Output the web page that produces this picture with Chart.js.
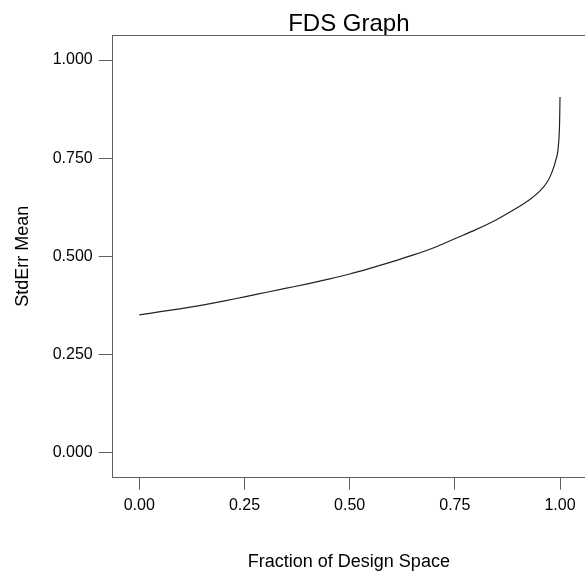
<!DOCTYPE html>
<html>
<head>
<meta charset="utf-8">
<title>FDS Graph</title>
<script src="https://cdn.jsdelivr.net/npm/chart.js@4/dist/chart.umd.min.js"></script>
<style>
  html, body { margin: 0; padding: 0; background: #ffffff; }
  #wrap { width: 585px; height: 575px; }
</style>
</head>
<body>
<div id="wrap"><canvas id="fds" width="585" height="575"></canvas></div>
<script>
// Fraction of design space (x) and standard error of the mean (y)
const fraction = [0, 0.05, 0.10, 0.15, 0.20, 0.25, 0.30, 0.35, 0.40, 0.45, 0.50, 0.55,
  0.60, 0.65, 0.70, 0.75, 0.80, 0.85, 0.90, 0.93, 0.95, 0.97, 0.98, 0.99, 0.996, 0.999, 1.0];
const stdErrMean = [0.351, 0.359, 0.367, 0.376, 0.386, 0.397, 0.408, 0.419, 0.430, 0.442,
  0.455, 0.470, 0.486, 0.503, 0.522, 0.545, 0.568, 0.594, 0.625, 0.646, 0.664, 0.690,
  0.712, 0.745, 0.780, 0.840, 0.906];

// Axis tick values
const xTicks = [0, 0.25, 0.5, 0.75, 1.0];
const yTicks = [0, 0.25, 0.5, 0.75, 1.0];

const axisGray = '#5f5f5f';
const fontFamily = '"Liberation Sans", Arial, sans-serif';

const points = fraction.map((x, i) => ({ x: x, y: stdErrMean[i] }));

// Closes the frame along the top edge of the plot
const topEdge = {
  id: 'topEdge',
  afterDraw(chart) {
    const { ctx, chartArea } = chart;
    ctx.save();
    ctx.strokeStyle = axisGray;
    ctx.lineWidth = 1;
    ctx.beginPath();
    ctx.moveTo(Math.round(chartArea.left) - 0.5, Math.round(chartArea.top) + 0.5);
    ctx.lineTo(chartArea.right, Math.round(chartArea.top) + 0.5);
    ctx.stroke();
    ctx.restore();
  }
};

new Chart(document.getElementById('fds'), {
  type: 'line',
  data: {
    datasets: [{
      data: points,
      borderColor: '#222222',
      borderWidth: 1.2,
      pointRadius: 0,
      cubicInterpolationMode: 'monotone',
      fill: false
    }]
  },
  options: {
    responsive: false,
    animation: false,
    layout: { padding: 0 },
    plugins: {
      legend: { display: false },
      tooltip: { enabled: false },
      title: {
        display: true,
        text: 'FDS Graph',
        fullSize: false,
        color: '#000000',
        font: { family: fontFamily, size: 24, weight: 'normal', lineHeight: 0.9 },
        padding: { top: 13.2, bottom: 0.2 }
      }
    },
    scales: {
      x: {
        type: 'linear',
        min: -0.0632,
        max: 1.0594,
        afterFit(scale) { scale.height = 97.3; },
        afterBuildTicks(scale) { scale.ticks = xTicks.map(v => ({ value: v })); },
        grid: { drawOnChartArea: false, drawTicks: true, tickLength: 12, color: axisGray, lineWidth: 1 },
        border: { display: true, color: axisGray, width: 1 },
        ticks: {
          color: '#000000',
          padding: 6,
          maxRotation: 0,
          autoSkip: false,
          font: { family: fontFamily, size: 16 },
          callback: v => Number(v).toFixed(2)
        },
        title: {
          display: true,
          text: 'Fraction of Design Space',
          color: '#000000',
          font: { family: fontFamily, size: 18 },
          padding: { top: 0, bottom: 2.6 }
        }
      },
      y: {
        type: 'linear',
        min: -0.0637,
        max: 1.0637,
        afterFit(scale) { scale.width = 112.7; },
        afterBuildTicks(scale) { scale.ticks = yTicks.map(v => ({ value: v })); },
        grid: { drawOnChartArea: false, drawTicks: true, tickLength: 14, color: axisGray, lineWidth: 1 },
        border: { display: true, color: axisGray, width: 1 },
        ticks: {
          color: '#000000',
          padding: 6,
          autoSkip: false,
          font: { family: fontFamily, size: 16 },
          callback: v => Number(v).toFixed(3)
        },
        title: {
          display: true,
          text: 'StdErr Mean',
          color: '#000000',
          font: { family: fontFamily, size: 18 },
          padding: { top: 12.2, bottom: 0 }
        }
      }
    }
  },
  plugins: [topEdge]
});
</script>
</body>
</html>
